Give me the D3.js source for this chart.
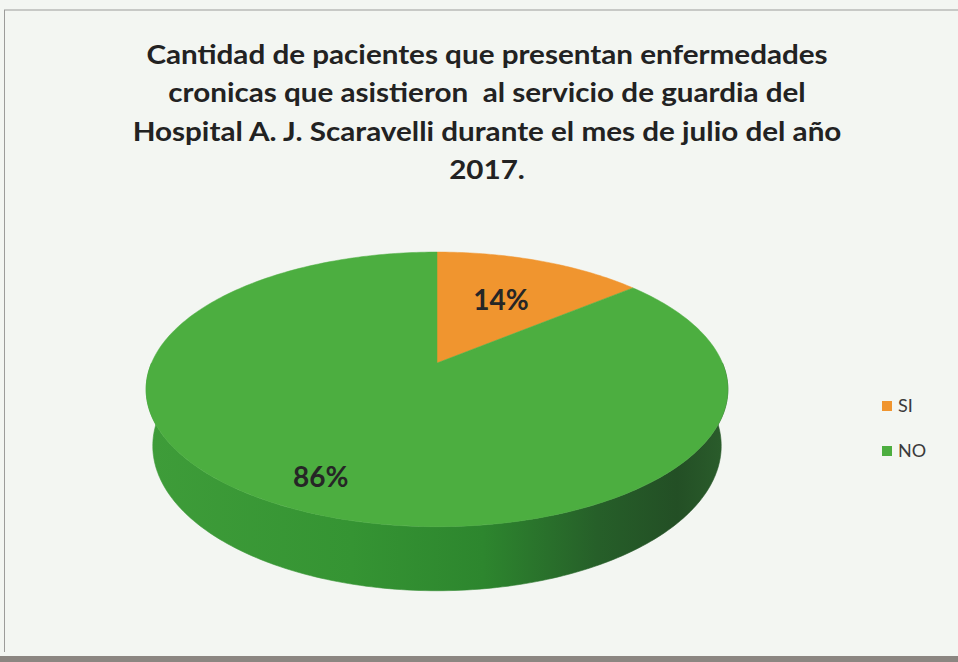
<!DOCTYPE html>
<html>
<head>
<meta charset="utf-8">
<script src="https://cdn.jsdelivr.net/npm/d3@7"></script>
<style>
  html, body { margin: 0; padding: 0; background: #f3f6f2; }
  svg { display: block; }
</style>
</head>
<body>
<div id="chart"></div>
<script>
// Data
const categories = ['SI', 'NO'];
const values = [14, 86];
const labels = ['14%', '86%'];
const titleLines = [
  'Cantidad de pacientes que presentan enfermedades',
  'cronicas que asistieron  al servicio de guardia del',
  'Hospital A. J. Scaravelli durante el mes de julio del año',
  '2017.'
];

const W = 958, H = 662;

/* ── Colors ── */
const COL = {
  bg: '#f3f6f2',
  frame: '#9c9c9a',
  band: '#8b8681',
  text: '#222222',
  legendText: '#3a3a3a',
  top: ['#f0952f', '#4cae40'],
};

// 3D projection settings (tilted disc with perspective)
const P = {
  cx: 437, cy: 363,   // screen position of pie centre
  f: 1318,            // focal scale (px)
  dist: 4.617,        // camera distance in radius units
  tilt: 27.6 * Math.PI / 180,
  depth: 0.225,       // thickness in radius units
};
const sinT = Math.sin(P.tilt), cosT = Math.cos(P.tilt);

// theta measured clockwise from 12 o'clock (far side), r in radius units, y = height
function project(theta, r = 1, y = 0) {
  const X = r * Math.sin(theta), Z = r * Math.cos(theta);
  const xv = X;
  const yv = Z * sinT + y * cosT;
  const zv = P.dist + Z * cosT - y * sinT;
  return [P.cx + P.f * xv / zv, P.cy - P.f * yv / zv];
}

function arcPoints(a0, a1, y) {
  const n = Math.max(2, Math.ceil((a1 - a0) / (Math.PI / 180)));
  return d3.range(n + 1).map(i => project(a0 + (a1 - a0) * i / n, 1, y));
}

const svg = d3.select('#chart').append('svg')
  .attr('width', W).attr('height', H)
  .attr('viewBox', `0 0 ${W} ${H}`);

svg.append('rect').attr('width', W).attr('height', H).attr('fill', COL.bg);

// chart frame
svg.append('line').attr('x1', 4).attr('y1', 10).attr('x2', W).attr('y2', 10)
  .attr('stroke', COL.frame).attr('stroke-width', 1.2);
svg.append('line').attr('x1', 4.5).attr('y1', 10).attr('x2', 4.5).attr('y2', 652)
  .attr('stroke', COL.frame).attr('stroke-width', 1);
svg.append('rect').attr('x', 0).attr('y', 656).attr('width', W).attr('height', 6)
  .attr('fill', COL.band);

// Title (the original face is a bit wider than Lato, so stretch horizontally)
const titleX = 487;
svg.append('text')
  .attr('transform', `translate(${titleX},0) scale(1.14,1)`)
  .attr('text-anchor', 'middle')
  .attr('font-family', 'Lato, sans-serif')
  .attr('font-weight', 700)
  .attr('font-size', 26)
  .attr('fill', COL.text)
  .style('white-space', 'pre')
  .selectAll('tspan').data(titleLines).enter().append('tspan')
  .attr('x', 0)
  .attr('y', (d, i) => 64 + i * 38.5)
  .text(d => d);

// Pie
const pie = d3.pie().sort(null).value(d => d)(values);
const defs = svg.append('defs');

const sideGrad = defs.append('linearGradient')
  .attr('id', 'side-grad')
  .attr('gradientUnits', 'userSpaceOnUse')
  .attr('x1', project(-Math.PI / 2)[0]).attr('y1', 0)
  .attr('x2', project(Math.PI / 2)[0]).attr('y2', 0);
[['0%', '#3e9c39'], ['35%', '#359433'], ['58%', '#2d862e'], ['78%', '#265f29'], ['92%', '#234f25'], ['100%', '#2a5c2b']]
  .forEach(([o, c]) => sideGrad.append('stop').attr('offset', o).attr('stop-color', c));

const sideGradOrange = defs.append('linearGradient')
  .attr('id', 'side-grad-0')
  .attr('gradientUnits', 'userSpaceOnUse')
  .attr('x1', project(-Math.PI / 2)[0]).attr('y1', 0)
  .attr('x2', project(Math.PI / 2)[0]).attr('y2', 0);
[['0%', '#e08424'], ['100%', '#8a4d14']]
  .forEach(([o, c]) => sideGradOrange.append('stop').attr('offset', o).attr('stop-color', c));

const line = d3.line();
const g = svg.append('g');

// side walls (front half only)
pie.forEach((d, i) => {
  const a0 = Math.max(d.startAngle, Math.PI / 2);
  const a1 = Math.min(d.endAngle, 3 * Math.PI / 2);
  if (a1 <= a0) return;
  const topPts = arcPoints(a0, a1, 0);
  const botPts = arcPoints(a0, a1, -P.depth).reverse();
  g.append('path')
    .attr('d', line(topPts.concat(botPts)) + 'Z')
    .attr('fill', i === 0 ? 'url(#side-grad-0)' : 'url(#side-grad)')
    .attr('stroke', i === 0 ? 'url(#side-grad-0)' : 'url(#side-grad)')
    .attr('stroke-width', 0.6);
});

// top faces
pie.forEach((d, i) => {
  const pts = [project(0, 0, 0)].concat(arcPoints(d.startAngle, d.endAngle, 0));
  g.append('path')
    .attr('d', line(pts) + 'Z')
    .attr('fill', COL.top[i])
    .attr('stroke', COL.top[i])
    .attr('stroke-width', 0.5);
});

// data labels
const labelR = [0.58, 0.82];
pie.forEach((d, i) => {
  const mid = (d.startAngle + d.endAngle) / 2;
  const [x, y] = project(mid, labelR[i], 0);
  g.append('text')
    .attr('x', x).attr('y', y)
    .attr('text-anchor', 'middle')
    .attr('dy', '0.35em')
    .attr('font-family', 'Lato, sans-serif')
    .attr('font-weight', 700)
    .attr('font-size', 28)
    .attr('fill', '#262626')
    .text(labels[i]);
});

// Legend
const legend = svg.append('g').attr('transform', 'translate(882,401)');
const item = legend.selectAll('g').data(categories).enter().append('g')
  .attr('transform', (d, i) => `translate(0,${i * 45})`);
item.append('rect').attr('width', 10).attr('height', 10)
  .attr('fill', (d, i) => COL.top[i]);
item.append('text')
  .attr('x', 16).attr('y', 5).attr('dy', '0.36em')
  .attr('font-family', 'Lato, sans-serif')
  .attr('font-size', 18)
  .attr('fill', COL.legendText)
  .text(d => d);
</script>
</body>
</html>
